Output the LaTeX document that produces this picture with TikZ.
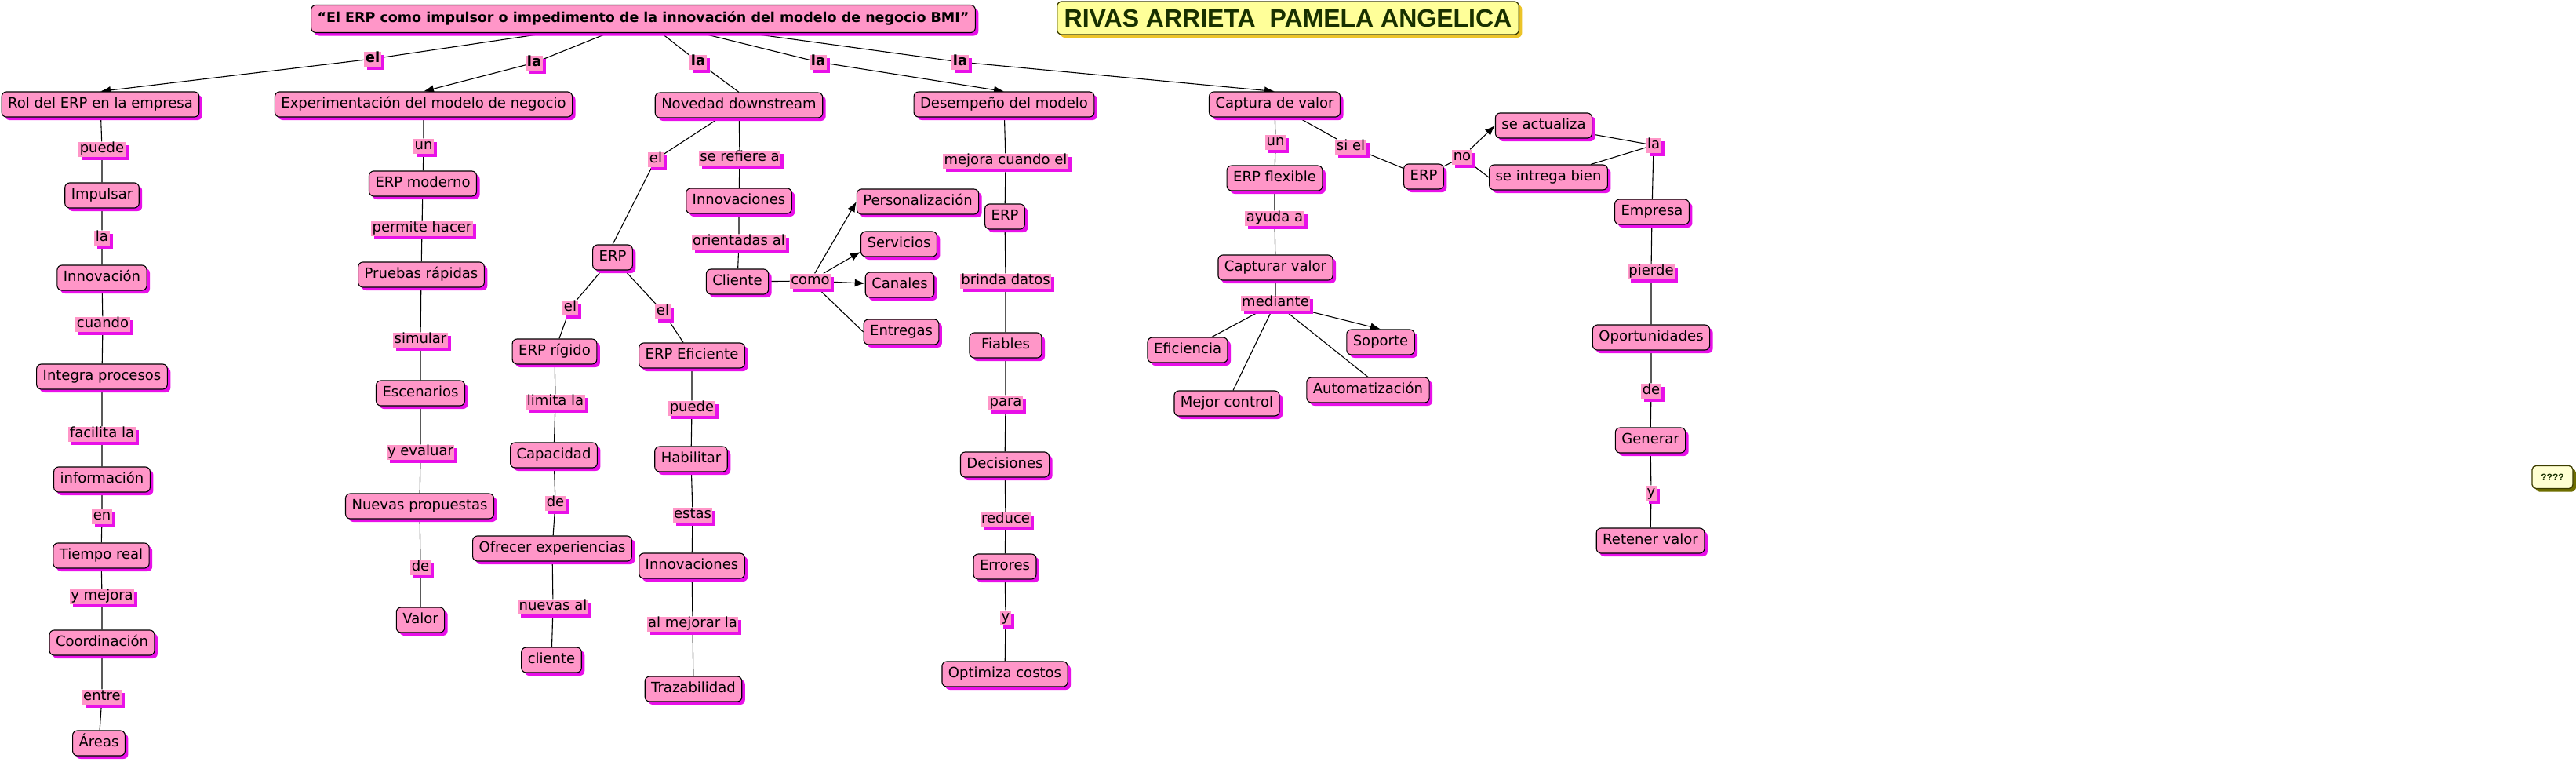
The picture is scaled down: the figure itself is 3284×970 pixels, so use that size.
\documentclass[tikz,border=0pt]{standalone}
\usepackage{fontspec}
\setmainfont{DejaVu Sans}
\newfontfamily\namefont{Liberation Sans}
\usetikzlibrary{shadows,arrows.meta,backgrounds}
\definecolor{pk}{RGB}{255,150,200}
\definecolor{mg}{RGB}{232,16,232}
\definecolor{yl}{RGB}{255,255,153}
\definecolor{gold}{RGB}{236,196,40}
\definecolor{olive}{RGB}{60,60,0}
\definecolor{dkgreen}{RGB}{24,48,0}
\definecolor{qfill}{RGB}{255,255,210}
\definecolor{qshadow}{RGB}{110,110,0}
\tikzset{
  cpt/.style={draw=black, line width=1.1pt, fill=pk, rounded corners=6pt,
    inner xsep=8pt, inner ysep=0pt, minimum height=32pt,
    text height=13.5pt, text depth=4.5pt, font=\fontsize{18}{20}\selectfont,
    drop shadow={shadow xshift=4pt, shadow yshift=-4pt, fill=mg, opacity=1}},
  lbl/.style={fill=pk, inner xsep=1.5pt, inner ysep=0.5pt,
    text height=13.5pt, text depth=4.5pt, font=\fontsize{18}{20}\selectfont,
    drop shadow={shadow xshift=4pt, shadow yshift=-4pt, fill=mg, opacity=1}},
  blbl/.style={lbl, font=\fontsize{18}{20}\selectfont\bfseries},
  ln/.style={line width=1.1pt, black},
  arr/.style={ln, -{Latex[length=13pt,width=10pt]}},
}
\begin{document}
\begin{tikzpicture}[x=1pt,y=-1pt]
\useasboundingbox (0,0) rectangle (3284,970);
% title and name
\node[cpt, font=\fontsize{17.5}{20}\selectfont\bfseries, minimum height=35pt] (title) at (820,24) {“El ERP como impulsor o impedimento de la innovación del modelo de negocio BMI”};
\node[draw=olive, line width=1.3pt, fill=yl, rounded corners=6pt, inner xsep=9pt, inner ysep=0pt, minimum height=42pt, text=dkgreen, font=\namefont\bfseries\fontsize{32}{34}\selectfont, drop shadow={shadow xshift=4pt, shadow yshift=-4pt, fill=gold, opacity=1}] (name) at (1642,23) {RIVAS ARRIETA\ \ PAMELA ANGELICA};
\node[draw=olive, line width=1.3pt, fill=qfill, rounded corners=5pt, inner xsep=5pt, inner ysep=0pt, minimum height=29pt, minimum width=52pt, text=dkgreen, font=\namefont\bfseries\fontsize{12}{14}\selectfont, drop shadow={shadow xshift=4pt, shadow yshift=-4pt, fill=qshadow, opacity=1}] (q) at (3254,608) {????};

% top links
\node[blbl] (lel) at (475,75) {el};
\node[blbl] (lla1) at (681,80) {la};
\node[blbl] (lla2) at (890,79) {la};
\node[blbl] (lla3) at (1043,79) {la};
\node[blbl] (lla4) at (1224,79) {la};

% level 1
\node[cpt] (rol) at (128,133) {Rol del ERP en la empresa};
\node[cpt] (exp) at (540,133) {Experimentación del modelo de negocio};
\node[cpt] (nov) at (942,134) {Novedad downstream};
\node[cpt] (des) at (1280,133) {Desempeño del modelo};
\node[cpt] (cap) at (1625,133) {Captura de valor};

% column 1
\node[lbl] (l1a) at (130,190) {puede};
\node[cpt] (impulsar) at (130,249) {Impulsar};
\node[lbl] (l1b) at (130,303) {la};
\node[cpt] (innova) at (130,354) {Innovación};
\node[lbl] (l1c) at (131,413) {cuando};
\node[cpt] (integra) at (130,480) {Integra procesos};
\node[lbl] (l1d) at (130,553) {facilita la};
\node[cpt] (info) at (130,611) {información};
\node[lbl] (l1e) at (130,658) {en\ };
\node[cpt] (tiempo) at (129,708) {Tiempo real};
\node[lbl] (l1f) at (130,760) {y mejora};
\node[cpt] (coord) at (130,819) {Coordinación};
\node[lbl] (l1g) at (130,888) {entre};
\node[cpt] (areas) at (126,947) {Áreas};

% column 2
\node[lbl] (l2a) at (540,186) {un};
\node[cpt] (erpmod) at (539,234) {ERP moderno};
\node[lbl] (l2b) at (538,291) {permite hacer};
\node[cpt] (pruebas) at (537,350) {Pruebas rápidas};
\node[lbl] (l2c) at (536,433) {simular};
\node[cpt] (escen) at (536,501) {Escenarios};
\node[lbl] (l2d) at (536,576) {y evaluar\ };
\node[cpt] (nuevas) at (535,645) {Nuevas propuestas};
\node[lbl] (l2e) at (536,723) {de};
\node[cpt] (valor) at (536,790) {Valor};

% column 3
\node[lbl] (l3a) at (836,203) {el};
\node[lbl] (l3b) at (943,201) {se refiere a};
\node[cpt] (innovb) at (942,256) {Innovaciones\ };
\node[lbl] (l3c) at (942,308) {orientadas al\ };
\node[cpt] (cliente) at (940,359) {Cliente};
\node[lbl] (l3d) at (1033,358) {como};
\node[cpt] (pers) at (1170,257) {Personalización};
\node[cpt] (serv) at (1146,311) {Servicios};
\node[cpt] (canal) at (1147,363) {Canales};
\node[cpt] (entreg) at (1149,423) {Entregas};
\node[cpt] (erpa) at (781,328) {ERP};
\node[lbl] (l3e) at (727,392) {el};
\node[lbl] (l3f) at (845,397) {el};
\node[cpt] (rigido) at (707,448) {ERP rígido};
\node[cpt] (efic) at (882,453) {ERP Eficiente};
\node[lbl] (l3g) at (708,512) {limita la};
\node[lbl] (l3h) at (882,520) {puede};
\node[cpt] (capac) at (706,580) {Capacidad};
\node[cpt] (habil) at (881,585) {Habilitar};
\node[lbl] (l3i) at (708,641) {de};
\node[lbl] (l3j) at (883,656) {estas};
\node[cpt] (ofrecer) at (704,699) {Ofrecer experiencias\ };
\node[cpt] (innovc) at (882,721) {Innovaciones};
\node[lbl] (l3k) at (705,773) {nuevas al};
\node[lbl] (l3l) at (883,795) {al mejorar la};
\node[cpt] (clienteb) at (703,841) {cliente};
\node[cpt] (traz) at (884,878) {Trazabilidad};

% column 4
\node[lbl] (l4a) at (1282,205) {mejora cuando el};
\node[cpt] (erpb) at (1281,276) {ERP};
\node[lbl] (l4b) at (1282,358) {brinda datos};
\node[cpt, minimum width=92pt] (fiables) at (1282,440) {Fiables};
\node[lbl] (l4c) at (1282,513) {para};
\node[cpt] (decis) at (1281,592) {Decisiones};
\node[lbl] (l4d) at (1282,662) {reduce};
\node[cpt] (errores) at (1281,722) {Errores};
\node[lbl] (l4e) at (1282,787) {y};
\node[cpt] (optim) at (1281,859) {Optimiza costos};

% column 5
\node[lbl] (l5a) at (1626,181) {un\ };
\node[cpt] (erpflex) at (1625,227) {ERP flexible};
\node[lbl] (l5b) at (1625,278) {ayuda a\ };
\node[cpt] (captv) at (1626,341) {Capturar valor};
\node[lbl] (l5c) at (1626,386) {mediante};
\node[cpt] (efi) at (1514,446) {Eficiencia};
\node[cpt] (mejor) at (1564,514) {Mejor control};
\node[cpt] (sop) at (1760,436) {Soporte};
\node[cpt] (auto) at (1744,497) {Automatización};
\node[lbl] (l5d) at (1722,187) {si el};
\node[cpt] (erpc) at (1815,225) {ERP};
\node[lbl] (l5e) at (1864,200) {no};
\node[cpt] (seact) at (1968,160) {se actualiza};
\node[cpt] (seint) at (1974,226) {se intrega bien};
\node[lbl] (l5f) at (2108,185) {la};
\node[cpt] (empresa) at (2106,270) {Empresa};
\node[lbl] (l5g) at (2105,346) {pierde};
\node[cpt] (oport) at (2105,430) {Oportunidades\ };
\node[lbl] (l5h) at (2105,498) {de};
\node[cpt] (generar) at (2104,561) {Generar\ };
\node[lbl] (l5i) at (2105,628) {y};
\node[cpt] (retener) at (2104,689) {Retener valor};

\begin{pgfonlayer}{background}
% title links
\draw[ln] (title) -- (lel);  \draw[arr] (lel) -- (rol.north);
\draw[ln] (title) -- (lla1); \draw[arr] (lla1) -- (exp.north);
\draw[ln] (title) -- (lla2); \draw[ln] (lla2) -- (nov.north);
\draw[ln] (title) -- (lla3); \draw[arr] (lla3) -- (des.north);
\draw[ln] (title) -- (lla4); \draw[arr] (lla4) -- (cap.north);
% column 1
\draw[ln] (rol) -- (l1a) -- (impulsar) -- (l1b) -- (innova) -- (l1c) -- (integra) -- (l1d) -- (info) -- (l1e) -- (tiempo) -- (l1f) -- (coord) -- (l1g) -- (areas);
% column 2
\draw[ln] (exp) -- (l2a) -- (erpmod) -- (l2b) -- (pruebas) -- (l2c) -- (escen) -- (l2d) -- (nuevas) -- (l2e) -- (valor);
% column 3
\draw[ln] (nov) -- (l3b) -- (innovb) -- (l3c) -- (cliente) -- (l3d);
\draw[arr] (l3d) -- (pers.west);
\draw[arr] (l3d) -- ([yshift=-10pt]serv.west);
\draw[arr] (l3d) -- (canal);
\draw[ln] (l3d) -- (entreg.west);
\draw[ln] (nov) -- (l3a); \draw[ln] (l3a) -- (erpa.north);
\draw[ln] (erpa) -- (l3e) -- (rigido) -- (l3g) -- (capac) -- (l3i) -- (ofrecer) -- (l3k) -- (clienteb);
\draw[ln] (erpa) -- (l3f) -- (efic) -- (l3h) -- (habil) -- (l3j) -- (innovc) -- (l3l) -- (traz);
% column 4
\draw[ln] (des) -- (l4a) -- (erpb) -- (l4b) -- (fiables) -- (l4c) -- (decis) -- (l4d) -- (errores) -- (l4e) -- (optim);
% column 5
\draw[ln] (cap) -- (l5a) -- (erpflex) -- (l5b) -- (captv) -- (l5c);
\draw[ln] (l5c) -- (efi);
\draw[ln] (l5c) -- (mejor);
\draw[ln] (l5c) -- (auto.north);
\draw[arr] (l5c) -- (sop.north);
\draw[ln] (cap) -- (l5d) -- (erpc) -- (l5e);
\draw[arr] (l5e) -- (seact.west);
\draw[ln] (l5e) -- (seint.west);
\draw[ln] (seact) -- (l5f);
\draw[ln] (seint) -- (l5f);
\draw[ln] (l5f) -- (empresa) -- (l5g) -- (oport) -- (l5h) -- (generar) -- (l5i) -- (retener);
\end{pgfonlayer}
\end{tikzpicture}
\end{document}
